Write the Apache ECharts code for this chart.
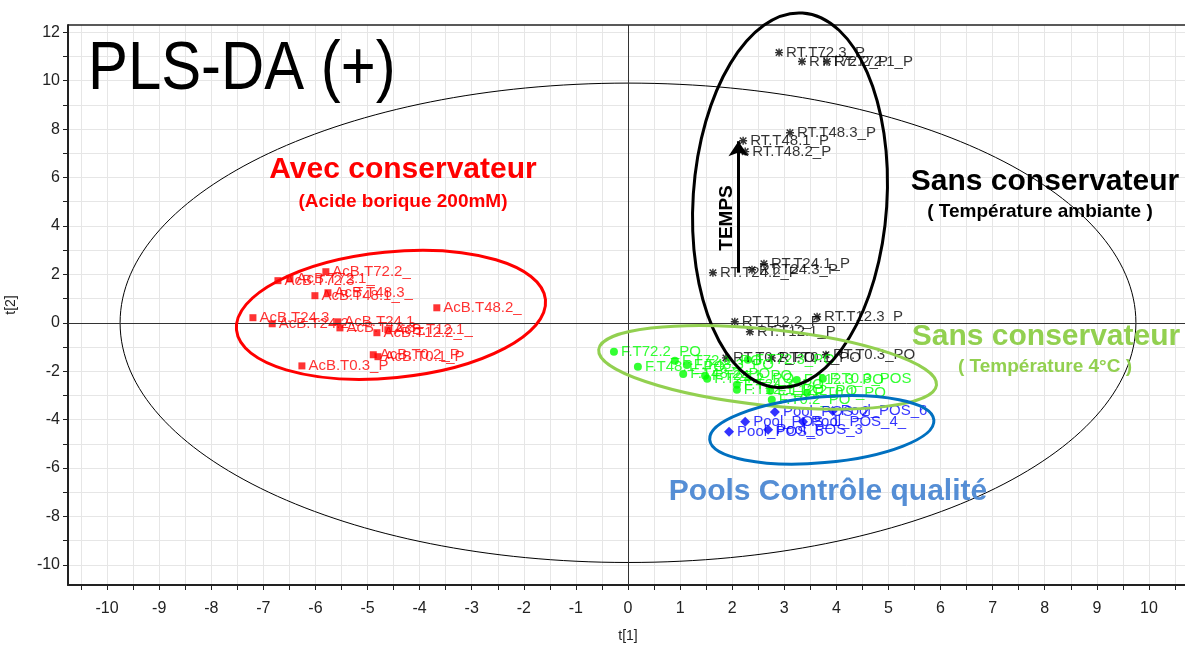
<!DOCTYPE html>
<html>
<head>
<meta charset="utf-8">
<script src="https://cdn.jsdelivr.net/npm/echarts@6/dist/echarts.min.js"></script>
<style>
  html, body { margin: 0; padding: 0; background: #fff; }
  #chart { width: 1185px; height: 648px; }
</style>
</head>
<body>
<div id="chart"></div>
<script>
// scores t[1] / t[2]
const acbNames = ['AcB.T72.3_', 'AcB.T72.1_', 'AcB.T72.2_', 'AcB.T48.1_', 'AcB.T48.3_', 'AcB.T48.2_',
  'AcB.T24.3_', 'AcB.T24.2_', 'AcB.T24.1_', 'AcB.T12.3_', 'AcB.T12.2_', 'AcB.T12.1_',
  'AcB.T0.2_P', 'AcB.T0.1_P', 'AcB.T0.3_P']
const acbT1 = [-6.72, -6.49, -5.80, -6.01, -5.76, -3.67, -7.20, -6.83, -5.57, -5.53, -4.82, -4.61, -4.89, -4.80, -6.26]
const acbT2 = [1.74, 1.82, 2.11, 1.12, 1.24, 0.62, 0.21, -0.04, 0.04, -0.21, -0.41, -0.29, -1.32, -1.40, -1.78]

const rtNames = ['RT.T72.3_P', 'RT.T72.2_P', 'RT.T72.1_P', 'RT.T48.1_P', 'RT.T48.3_P', 'RT.T48.2_P',
  'RT.T24.2_P', 'RT.T24.1_P', 'RT.T24.3_P', 'RT.T12.3_P', 'RT.T12.2_P', 'RT.T12.1_P',
  'RT.T0.2_PO', 'RT.T0.1_PO', 'RT.T0.3_PO']
const rtT1 = [2.90, 3.34, 3.82, 2.21, 3.11, 2.25, 1.63, 2.61, 2.38, 3.63, 2.05, 2.34, 1.88, 2.76, 3.80]
const rtT2 = [11.16, 10.79, 10.79, 7.52, 7.85, 7.07, 2.07, 2.44, 2.19, 0.25, 0.04, -0.37, -1.45, -1.45, -1.32]

const fNames = ['F.T72.2_PO', 'F.T72.1_PO', 'F.T72.3_PO', 'F.T48.1_PO', 'F.T48.2_PO', 'F.T48.3_PO',
  'F.T24.1_PO', 'F.T24.2_PO', 'F.T24.3_PO', 'F.T12.1_PO', 'F.T12.2_PO', 'F.T12.3_PO',
  'F.T0.3_POS', 'F.T0.1_PO', 'F.T0.2_PO']
const fT1 = [-0.27, 0.90, 2.30, 0.19, 1.06, 1.13, 1.48, 1.52, 2.09, 2.09, 2.73, 3.24, 3.74, 3.44, 2.76]
const fT2 = [-1.20, -1.57, -1.53, -1.82, -2.11, -1.74, -2.19, -2.31, -2.56, -2.77, -2.81, -2.36, -2.31, -2.89, -3.18]

const poolNames = ['Pool_POS_5', 'Pool_POS_1', 'Pool_POS_3', 'Pool_POS_2', 'Pool_POS_4_', 'Pool_POS_6']
const poolT1 = [1.94, 2.25, 2.69, 2.82, 3.36, 3.93]
const poolT2 = [-4.50, -4.09, -4.42, -3.68, -4.09, -3.64]

// axis ticks / labels / grid lines
const xLabels = [-10, -9, -8, -7, -6, -5, -4, -3, -2, -1, 0, 1, 2, 3, 4, 5, 6, 7, 8, 9, 10]
const xMinor = [-10.5, -9.5, -8.5, -7.5, -6.5, -5.5, -4.5, -3.5, -2.5, -1.5, -0.5,
  0.5, 1.5, 2.5, 3.5, 4.5, 5.5, 6.5, 7.5, 8.5, 9.5, 10.5]
const yTicks = [-10, -9, -8, -7, -6, -5, -4, -3, -2, -1, 0, 1, 2, 3, 4, 5, 6, 7, 8, 9, 10, 11, 12]
const yLabels = [-10, -8, -6, -4, -2, 0, 2, 4, 6, 8, 10, 12]
const yGrid = [-10, -7.5, -5, -2.5, 0, 2.5, 5, 7.5, 10]
const yTop = 12.3

// Hotelling T2 ellipse (semi axes on t[1], t[2])
const hotelling = [[0, 0, 9.75, 9.9, 0]]
// hand drawn group ellipses: centre t1, centre t2, half width, half height, tilt (deg)
const groupEllipses = [
  [-4.55, 0.33, 2.98, 2.6, 5.6],
  [3.11, 5.06, 1.86, 7.75, -3.8],
  [2.68, -1.84, 3.26, 1.57, -6],
  [3.72, -4.42, 2.16, 1.36, 5]
]
const groupColors = ['#ff0000', '#000000', '#92d050', '#0070c0']
// TEMPS arrow (t1, t2 of tail and head)
const tempsArrow = [[2.12, 2.07], [2.12, 7.5]]

const pts = (names, t1, t2) => names.map((n, i) => ({ name: n, value: [t1[i], t2[i]] }))
const xTickValues = xLabels.concat(xMinor).sort((a, b) => a - b)

const chart = echarts.init(document.getElementById('chart'))
const labelFont = 'Liberation Sans, Arial, sans-serif'

function pointLabel(color) {
  return {
    show: true,
    position: 'right',
    distance: 3,
    formatter: '{b}',
    color: color,
    fontSize: 15,
    fontFamily: labelFont
  }
}

function ellipseItem(width) {
  return function(params, api) {
    const c = api.coord([api.value(0), api.value(1)])
    const s = api.size([api.value(2), api.value(3)])
    return {
      type: 'ellipse',
      x: c[0],
      y: c[1],
      rotation: api.value(4) * Math.PI / 180,
      shape: { cx: 0, cy: 0, rx: s[0], ry: s[1] },
      style: { fill: 'none', stroke: api.visual('color'), lineWidth: width }
    }
  }
}

chart.setOption({
  animation: false,
  grid: {
    left: 68,
    right: -3,
    top: 25,
    bottom: 63,
    outerBoundsMode: 'none'
  },
  xAxis: {
    type: 'value',
    min: -10.75,
    max: 10.75,
    name: 't[1]',
    nameLocation: 'middle',
    nameGap: 44,
    nameTextStyle: { color: '#222', fontSize: 14, fontFamily: labelFont },
    axisLine: { onZero: false, lineStyle: { color: '#222', width: 2 } },
    axisTick: { length: 5, customValues: xTickValues, lineStyle: { color: '#222' } },
    axisLabel: {
      margin: 16,
      color: '#222',
      fontSize: 16,
      fontFamily: labelFont,
      customValues: xLabels
    },
    splitLine: { show: true, customValues: xTickValues, lineStyle: { color: '#e6e6e6', width: 1 } }
  },
  yAxis: {
    type: 'value',
    min: -10.83,
    max: yTop,
    name: 't[2]',
    nameLocation: 'middle',
    nameGap: 50,
    nameRotate: 90,
    nameTextStyle: { color: '#222', fontSize: 14, fontFamily: labelFont },
    axisLine: { onZero: false, lineStyle: { color: '#222', width: 2 } },
    axisTick: { length: 5, customValues: yTicks, lineStyle: { color: '#222' } },
    axisLabel: {
      margin: 8,
      color: '#222',
      fontSize: 16,
      fontFamily: labelFont,
      customValues: yLabels
    },
    splitLine: { show: true, customValues: yGrid, lineStyle: { color: '#e6e6e6', width: 1 } }
  },
  series: [
    {
      type: 'custom',
      name: 'hotelling',
      renderItem: ellipseItem(1),
      encode: { x: 0, y: 1 },
      itemStyle: { color: '#000' },
      silent: true,
      z: 1,
      data: hotelling,
      markLine: {
        silent: true,
        symbol: 'none',
        label: { show: false },
        lineStyle: { color: '#333', width: 1, type: 'solid' },
        // zero lines + top frame
        data: [{ xAxis: 0 }, { yAxis: 0 }, { yAxis: yTop, lineStyle: { color: '#222', width: 1.5 } }]
      }
    },
    {
      type: 'scatter',
      name: 'AcB',
      symbol: 'rect',
      symbolSize: 7,
      itemStyle: { color: '#ff0000' },
      label: pointLabel('#ff0000'),
      z: 3,
      data: pts(acbNames, acbT1, acbT2)
    },
    {
      type: 'scatter',
      name: 'RT',
      symbol: 'path://M4.1,0H5.9V10H4.1Z M0,4.1H10V5.9H0Z M1.6,0.3L9.7,8.4L8.4,9.7L0.3,1.6Z M8.4,0.3L9.7,1.6L1.6,9.7L0.3,8.4Z',
      symbolSize: 8,
      itemStyle: { color: '#000' },
      label: pointLabel('#000'),
      z: 3,
      data: pts(rtNames, rtT1, rtT2),
      markLine: {
        silent: true,
        symbol: ['none', 'arrow'],
        symbolSize: 15,
        label: { show: false },
        lineStyle: { color: '#000', width: 3, type: 'solid' },
        data: [[{ coord: tempsArrow[0] }, { coord: tempsArrow[1] }]]
      }
    },
    {
      type: 'scatter',
      name: 'F',
      symbol: 'circle',
      symbolSize: 8,
      itemStyle: { color: '#00ff00' },
      label: pointLabel('#00ff00'),
      z: 3,
      data: pts(fNames, fT1, fT2)
    },
    {
      type: 'scatter',
      name: 'Pool',
      symbol: 'diamond',
      symbolSize: 10,
      itemStyle: { color: '#0000ff' },
      label: pointLabel('#0000ff'),
      z: 3,
      data: pts(poolNames, poolT1, poolT2)
    },
    {
      type: 'custom',
      name: 'groups',
      renderItem: ellipseItem(3),
      encode: { x: 0, y: 1 },
      silent: true,
      z: 5,
      data: groupEllipses.map((e, i) => ({ value: e, itemStyle: { color: groupColors[i] } }))
    }
  ],
  graphic: [
    { type: 'text', x: 88, y: 70, z: 10, scaleX: 0.88,
      style: { text: 'PLS-DA (+)', fill: '#000', font: 'normal 68px Liberation Sans, Arial, sans-serif', verticalAlign: 'middle' } },
    { type: 'text', x: 403, y: 170, z: 10,
      style: { text: 'Avec conservateur', fill: '#ff0000', font: 'bold 30px Liberation Sans, Arial, sans-serif', align: 'center', verticalAlign: 'middle' } },
    { type: 'text', x: 403, y: 202, z: 10,
      style: { text: '(Acide borique 200mM)', fill: '#ff0000', font: 'bold 19px Liberation Sans, Arial, sans-serif', align: 'center', verticalAlign: 'middle' } },
    { type: 'text', x: 1045, y: 182, z: 10,
      style: { text: 'Sans conservateur', fill: '#000', font: 'bold 30px Liberation Sans, Arial, sans-serif', align: 'center', verticalAlign: 'middle' } },
    { type: 'text', x: 1040, y: 212, z: 10,
      style: { text: '( Température ambiante )', fill: '#000', font: 'bold 19px Liberation Sans, Arial, sans-serif', align: 'center', verticalAlign: 'middle' } },
    { type: 'text', x: 1046, y: 337, z: 10,
      style: { text: 'Sans conservateur', fill: '#92d050', font: 'bold 30px Liberation Sans, Arial, sans-serif', align: 'center', verticalAlign: 'middle' } },
    { type: 'text', x: 1045, y: 367, z: 10,
      style: { text: '( Température 4°C )', fill: '#92d050', font: 'bold 19px Liberation Sans, Arial, sans-serif', align: 'center', verticalAlign: 'middle' } },
    { type: 'text', x: 828, y: 492, z: 10,
      style: { text: 'Pools Contrôle qualité', fill: '#558ed5', font: 'bold 30px Liberation Sans, Arial, sans-serif', align: 'center', verticalAlign: 'middle' } },
    { type: 'text', x: 727, y: 218, z: 10, rotation: Math.PI / 2,
      style: { text: 'TEMPS', fill: '#000', font: 'bold 19px Liberation Sans, Arial, sans-serif', align: 'center', verticalAlign: 'middle' } }
  ]
})
</script>
</body>
</html>
